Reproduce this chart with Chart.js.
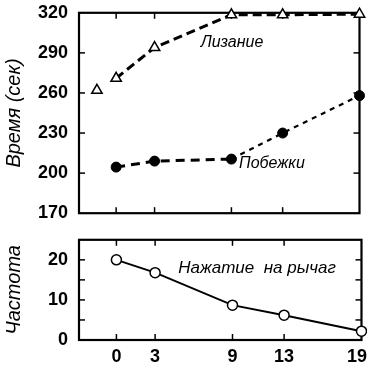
<!DOCTYPE html>
<html><head><meta charset="utf-8">
<script src="https://cdn.jsdelivr.net/npm/chart.js@4/dist/chart.umd.min.js"></script>
<style>
html,body{margin:0;padding:0;background:#fff;width:367px;height:366px;overflow:hidden;position:relative}
#top{position:absolute;left:0;top:-9px}
#bot{position:absolute;left:0;top:218px}
</style></head><body>
<canvas id="top" width="367" height="244"></canvas>
<canvas id="bot" width="382" height="148"></canvas>
<script>
// ---- data ----
const days = [0, 3, 9, 13, 19];
const lickBaseDay = [-1.5];
const lickBase = [262];
const licking = [271, 294, 318.5, 318.5, 319];
const runs = [204.5, 209, 210.5, 230, 258];
const presses = [20, 16.8, 8.7, 6.2, 2.2];
const timeTicks = [170, 200, 230, 260, 290, 320];
const freqTicks = [0, 10, 20];
const dayTicks = [0, 3, 9, 13, 19];

const TICKFONT = {family: "'Liberation Sans','DejaVu Sans',sans-serif", size: 18, weight: 'bold'};
const TITLEFONT = {family: "'Liberation Sans','DejaVu Sans',sans-serif", size: 20, style: 'italic'};

const frameTicks = {
  id: 'frameTicks',
  beforeDatasetsDraw(chart, args, o) {
    const ctx = chart.ctx, a = chart.chartArea;
    const xs = chart.scales.x, ys = chart.scales.y;
    ctx.save();
    ctx.strokeStyle = '#000';
    ctx.lineWidth = 1.5;
    const L = 6;
    (o.xTop || []).forEach(v => { const p = xs.getPixelForValue(v); ctx.beginPath(); ctx.moveTo(p, a.top); ctx.lineTo(p, a.top + L); ctx.stroke(); });
    (o.xBottom || []).forEach(v => { const p = xs.getPixelForValue(v); ctx.beginPath(); ctx.moveTo(p, a.bottom); ctx.lineTo(p, a.bottom - L); ctx.stroke(); });
    (o.yLeft || []).forEach(v => { const p = ys.getPixelForValue(v); ctx.beginPath(); ctx.moveTo(a.left, p); ctx.lineTo(a.left + L, p); ctx.stroke(); });
    (o.yRight || []).forEach(v => { const p = ys.getPixelForValue(v); ctx.beginPath(); ctx.moveTo(a.right, p); ctx.lineTo(a.right - L, p); ctx.stroke(); });
    ctx.lineWidth = 2.2;
    ctx.strokeRect(a.left, a.top, a.right - a.left, a.bottom - a.top);
    ctx.restore();
  },
  afterDatasetsDraw(chart, args, o) {
    const ctx = chart.ctx;
    const xs = chart.scales.x, ys = chart.scales.y;
    ctx.save();
    ctx.fillStyle = '#000';
    ctx.textBaseline = 'middle';
    ctx.textAlign = 'left';
    (o.notes || []).forEach(n => {
      ctx.font = n.font;
      ctx.fillText(n.text, xs.getPixelForValue(n.x), ys.getPixelForValue(n.y));
    });
    ctx.restore();
  }
};
Chart.register(frameTicks);

const NOTEFONT = "italic 16px 'Liberation Sans','DejaVu Sans',sans-serif";

function xScale(showLabels, h) {
  return {
    type: 'linear', min: -2.9, max: 19,
    afterBuildTicks: s => { s.ticks = dayTicks.map(v => ({value: v})); },
    afterFit: s => { s.height = h; },
    grid: {display: false, drawTicks: false},
    border: {display: false},
    ticks: {display: showLabels, font: TICKFONT, color: '#000', padding: 6, maxRotation: 0, autoSkip: false,
            callback: (v, i, t) => i === t.length - 1 ? String(v) + '\u2002' : String(v)}
  };
}
function yScale(min, max, ticks, title) {
  return {
    type: 'linear', min: min, max: max,
    afterBuildTicks: s => { s.ticks = ticks.map(v => ({value: v})); },
    afterFit: s => { s.width = 79; },
    grid: {display: false, drawTicks: false},
    border: {display: false},
    ticks: {font: TICKFONT, color: '#000', padding: 11, autoSkip: false},
    title: {display: true, text: title, font: TITLEFONT, color: '#000', padding: {top: 2, bottom: 0}}
  };
}

new Chart(document.getElementById('top'), {
  type: 'line',
  data: {
    datasets: [
      {data: lickBaseDay.map((d, i) => ({x: d, y: lickBase[i]})), showLine: false,
       pointStyle: 'triangle', pointRadius: 6, pointBackgroundColor: '#fff', pointBorderColor: '#000', pointBorderWidth: 1.5, clip: false},
      {data: days.map((d, i) => ({x: d, y: licking[i]})), borderColor: '#000', borderWidth: 3, borderDash: [9, 5],
       pointStyle: 'triangle', pointRadius: 6, pointBackgroundColor: '#fff', pointBorderColor: '#000', pointBorderWidth: 1.5, clip: false},
      {data: days.map((d, i) => ({x: d, y: runs[i]})), borderColor: '#000', borderWidth: 3, borderDash: [9, 6],
       segment: {borderDash: c => c.p0DataIndex >= 2 ? [5, 5] : undefined, borderWidth: c => c.p0DataIndex >= 2 ? 2.2 : undefined},
       pointStyle: 'circle', pointRadius: 5, pointBackgroundColor: '#000', pointBorderColor: '#000', pointBorderWidth: 1, clip: false}
    ]
  },
  options: {
    responsive: false, animation: false, devicePixelRatio: 1,
    layout: {padding: {top: 0, right: 6, left: 0, bottom: 0}},
    plugins: {
      legend: {display: false}, tooltip: {enabled: false},
      frameTicks: {
        xTop: [0, 3, 9, 13], xBottom: [0, 3, 9, 13],
        yLeft: [200, 230, 260, 290], yRight: [200, 230, 260, 290],
        notes: [
          {text: 'Лизание', x: 6.6, y: 297.5, font: NOTEFONT},
          {text: 'Побежки', x: 9.6, y: 207.5, font: NOTEFONT}
        ]
      }
    },
    scales: {x: xScale(false, 0), y: yScale(170, 320, timeTicks, 'Время (сек)')}
  }
});

new Chart(document.getElementById('bot'), {
  type: 'line',
  data: {
    datasets: [
      {data: days.map((d, i) => ({x: d, y: presses[i]})), borderColor: '#000', borderWidth: 2,
       pointStyle: 'circle', pointRadius: 5, pointBackgroundColor: '#fff', pointBorderColor: '#000', pointBorderWidth: 1.5, clip: false}
    ]
  },
  options: {
    responsive: false, animation: false, devicePixelRatio: 1,
    layout: {padding: {top: 0, right: 6, left: 0, bottom: 0}},
    plugins: {
      legend: {display: false}, tooltip: {enabled: false},
      frameTicks: {
        xTop: [0, 3, 9, 13], xBottom: [0, 3, 9, 13],
        yLeft: [5, 10, 15, 20], yRight: [5, 10, 15, 20],
        notes: [
          {text: 'Нажатие  на рычаг', x: 4.8, y: 18, font: "italic 17px 'Liberation Sans','DejaVu Sans',sans-serif"}
        ]
      }
    },
    scales: {x: xScale(true, 26), y: yScale(0, 25, freqTicks, 'Частота')}
  }
});
</script>
</body></html>
